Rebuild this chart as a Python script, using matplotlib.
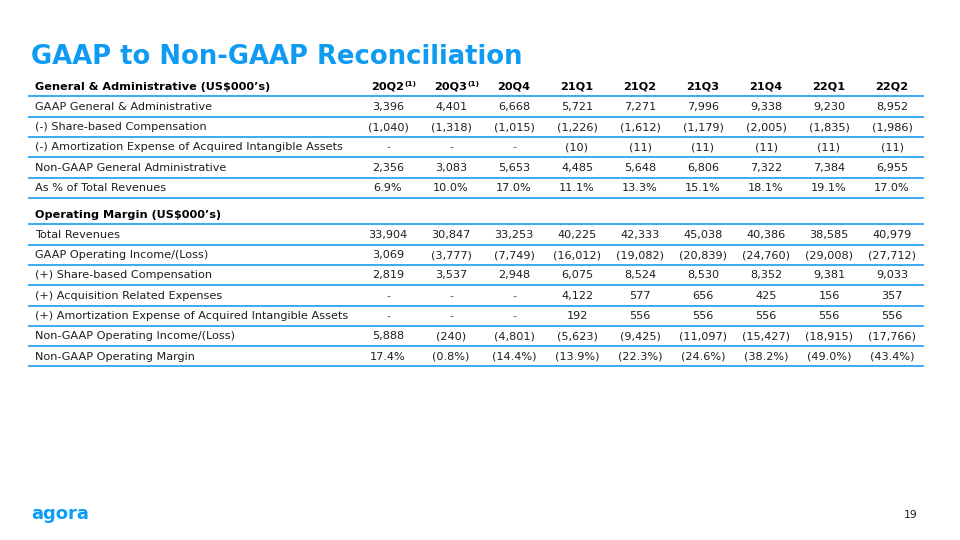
"""GAAP to Non-GAAP reconciliation slide"""
import matplotlib
matplotlib.use("Agg")
import matplotlib.pyplot as plt

quarters = ["20Q2", "20Q3", "20Q4", "21Q1", "21Q2", "21Q3", "21Q4", "22Q1", "22Q2"]
footnoted = ["20Q2", "20Q3"]

ga_title = "General & Administrative (US$000\u2019s)"
ga_labels = [
    "GAAP General & Administrative",
    "(-) Share-based Compensation",
    "(-) Amortization Expense of Acquired Intangible Assets",
    "Non-GAAP General Administrative",
    "As % of Total Revenues",
]
ga_gaap = [3396, 4401, 6668, 5721, 7271, 7996, 9338, 9230, 8952]
ga_sbc = [-1040, -1318, -1015, -1226, -1612, -1179, -2005, -1835, -1986]
ga_amort = [None, None, None, -10, -11, -11, -11, -11, -11]
ga_nongaap = [2356, 3083, 5653, 4485, 5648, 6806, 7322, 7384, 6955]
ga_pct = [6.9, 10.0, 17.0, 11.1, 13.3, 15.1, 18.1, 19.1, 17.0]

op_title = "Operating Margin (US$000\u2019s)"
op_labels = [
    "Total Revenues",
    "GAAP Operating Income/(Loss)",
    "(+) Share-based Compensation",
    "(+) Acquisition Related Expenses",
    "(+) Amortization Expense of Acquired Intangible Assets",
    "Non-GAAP Operating Income/(Loss)",
    "Non-GAAP Operating Margin",
]
op_revenue = [33904, 30847, 33253, 40225, 42333, 45038, 40386, 38585, 40979]
op_gaap = [3069, -3777, -7749, -16012, -19082, -20839, -24760, -29008, -27712]
op_sbc = [2819, 3537, 2948, 6075, 8524, 8530, 8352, 9381, 9033]
op_acq = [None, None, None, 4122, 577, 656, 425, 156, 357]
op_amort = [None, None, None, 192, 556, 556, 556, 556, 556]
op_nongaap = [5888, -240, -4801, -5623, -9425, -11097, -15427, -18915, -17766]
op_margin = [17.4, -0.8, -14.4, -13.9, -22.3, -24.6, -38.2, -49.0, -43.4]

ga_rows = [(ga_gaap, False), (ga_sbc, False), (ga_amort, False),
           (ga_nongaap, False), (ga_pct, True)]
op_rows = [(op_revenue, False), (op_gaap, False), (op_sbc, False), (op_acq, False),
           (op_amort, False), (op_nongaap, False), (op_margin, True)]

BLUE = "#0F9BF2"
RULE = "#3DAAF2"
INK = "#1E1E1E"
FS = 8.1


def fmt(v, pct):
    if v is None:
        return "-"
    s = f"{abs(v):.1f}%" if pct else f"{abs(v):,}"
    return f"({s})" if v < 0 else s


fig = plt.figure(figsize=(9.6, 5.4), dpi=100)
ax = fig.add_axes([0, 0, 1, 1])
ax.set_xlim(0, 960)
ax.set_ylim(540, 0)
ax.axis("off")

ax.text(31, 57, "GAAP to Non-GAAP Reconciliation", fontsize=18.6, fontweight="bold",
        color=BLUE, va="center", ha="left")

label_x = 35
col_x = [388 + 63.0 * i for i in range(len(quarters))]
pitch = 20.3
rule_l, rule_r = 28, 924


def section(y0, title, labels, rows, with_header):
    ax.text(label_x, y0, title, fontsize=FS, fontweight="bold", color="black", va="center")
    if with_header:
        for x, q in zip(col_x, quarters):
            t = ax.text(x, y0, q, fontsize=FS, fontweight="bold", color="black",
                        ha="center", va="center")
            if q in footnoted:
                ax.annotate("(1)", xy=(1.0, 1.05), xycoords=t, fontsize=5.4,
                            fontweight="bold", color="black", ha="left", va="top")
    ax.plot([rule_l, rule_r], [y0 + 9.8] * 2, color=RULE, lw=1.4, solid_capstyle="butt")
    for i, (label, (vals, pct)) in enumerate(zip(labels, rows), start=1):
        y = y0 + pitch * i
        ax.text(label_x, y, label, fontsize=FS, color=INK, va="center")
        for x, v in zip(col_x, vals):
            ax.text(x, y, fmt(v, pct), fontsize=FS, ha="center", va="center",
                    color="#555555" if v is None else INK)
        ax.plot([rule_l, rule_r], [y + 9.8] * 2, color=RULE, lw=1.4, solid_capstyle="butt")


section(86.5, ga_title, ga_labels, ga_rows, True)
section(214.5, op_title, op_labels, op_rows, False)

ax.text(31, 514, "agora", fontsize=13, fontweight="bold", color="#0A9DFB",
        va="center", ha="left")
ax.text(918, 515, "19", fontsize=7.8, color=INK, va="center", ha="right")

fig.savefig("out.png", dpi=100)
